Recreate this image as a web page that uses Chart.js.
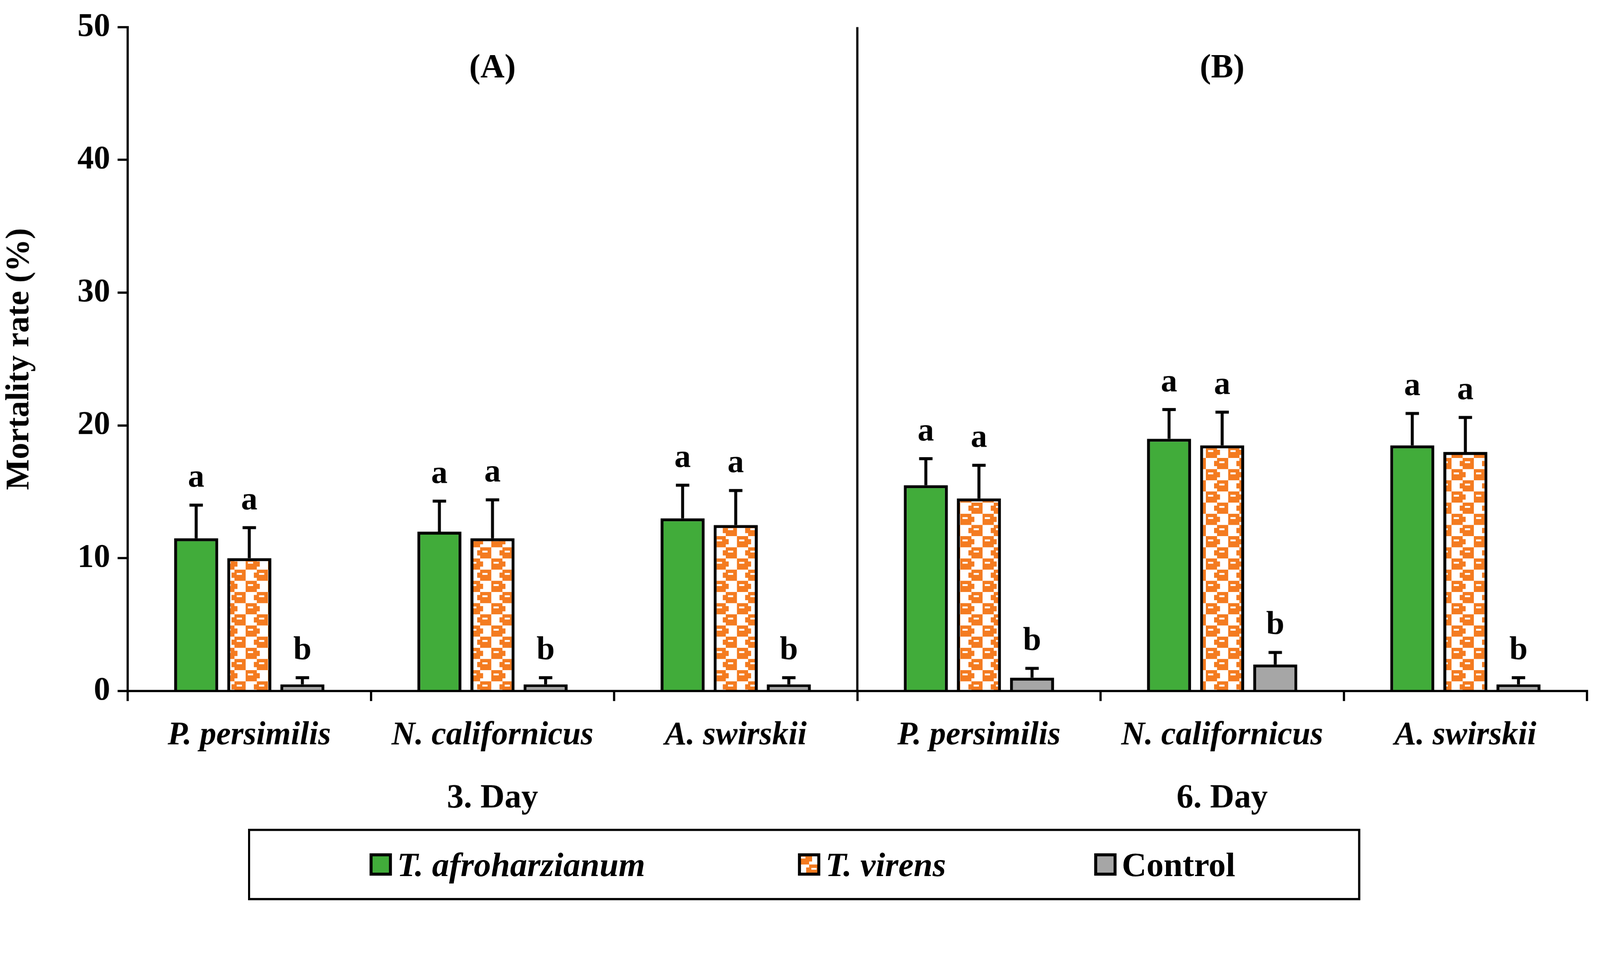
<!DOCTYPE html>
<html><head><meta charset="utf-8">
<script src="https://cdn.jsdelivr.net/npm/chart.js@4"></script>
<style>
html,body{margin:0;padding:0;background:#fff;overflow:hidden;}
#wrap{position:absolute;left:0;top:0;width:4299px;height:2444px;transform-origin:0 0;}
#legend{position:absolute;left:666px;top:2226px;width:2989px;height:192px;border:6px solid #000;box-sizing:border-box;font-family:"Liberation Serif",serif;font-size:92px;font-weight:bold;}
.li{display:flex;align-items:center;position:absolute;top:0;height:100%;}
.li canvas{width:60px;height:60px;margin-right:14px;}
</style></head><body>
<div id="wrap"><canvas id="c" width="4299" height="2444" style="width:4299px;height:2444px"></canvas>
<div id="legend"></div></div>
<script>
const categories = ["P. persimilis","N. californicus","A. swirskii","P. persimilis","N. californicus","A. swirskii"];
const groupLabels = ["3. Day","6. Day"];
const panelLabels = ["(A)","(B)"];
const seriesNames = ["T. afroharzianum","T. virens","Control"];
const afro = [11.5,12,13,15.5,19,18.5];
const afroErr = [2.5,2.3,2.5,2.0,2.2,2.4];
const virens = [10,11.5,12.5,14.5,18.5,18];
const virensErr = [2.3,2.9,2.6,2.5,2.5,2.6];
const control = [0.5,0.5,0.5,1.0,2.0,0.5];
const controlErr = [0.5,0.5,0.5,0.7,0.9,0.5];
const letters = [["a","a","a","a","a","a"],["a","a","a","a","a","a"],["b","b","b","b","b","b"]];
const yTicks = [0,10,20,30,40,50];

const k = Math.min(window.innerWidth/4299, window.innerHeight/2444);
document.getElementById('wrap').style.transform='scale('+k+')';

const FONT = '"Liberation Serif", serif';
function makePattern(){
  const t=document.createElement('canvas');t.width=60;t.height=60;
  const g=t.getContext('2d');
  g.fillStyle='#fff';g.fillRect(0,0,60,60);
  g.fillStyle='#f47b20';
  g.fillRect(0,0,30,30);g.fillRect(30,30,30,30);
  g.fillRect(22,8,16,14);g.fillRect(22,38,16,14);
  g.fillStyle='#fff';
  g.fillRect(6,9,14,5);g.fillRect(36,39,14,5);
  return document.getElementById('c').getContext('2d').createPattern(t,'repeat');
}
const pat = makePattern();
const fills = ['#41ac3a', pat, '#a6a6a6'];
const errs = [afroErr, virensErr, controlErr];

const overlay = {
  id:'overlay',
  afterDatasetsDraw(chart){
    const ctx=chart.ctx, y=chart.scales.y, x=chart.scales.x, ca=chart.chartArea;
    ctx.save();
    ctx.strokeStyle='#000';ctx.fillStyle='#000';ctx.lineWidth=8;
    chart.data.datasets.forEach((ds,di)=>{
      const meta=chart.getDatasetMeta(di);
      meta.data.forEach((bar,i)=>{
        const top=y.getPixelForValue(ds.data[i]);
        const et=y.getPixelForValue(ds.data[i]+errs[di][i]);
        ctx.beginPath();ctx.moveTo(bar.x,top);ctx.lineTo(bar.x,et);
        ctx.moveTo(bar.x-18,et);ctx.lineTo(bar.x+18,et);ctx.stroke();
        ctx.font='bold 88px '+FONT;ctx.textAlign='center';ctx.textBaseline='bottom';
        ctx.fillText(letters[di][i],bar.x,et-28);
      });
    });
    const xm=(x.getPixelForValue(2)+x.getPixelForValue(3))/2;
    ctx.lineWidth=6;ctx.beginPath();ctx.moveTo(xm,ca.top);ctx.lineTo(xm,ca.bottom);ctx.stroke();
    ctx.font='bold 90px '+FONT;ctx.textAlign='center';ctx.textBaseline='middle';
    const c1=(x.getPixelForValue(0)+x.getPixelForValue(2))/2, c2=(x.getPixelForValue(3)+x.getPixelForValue(5))/2;
    ctx.fillText(panelLabels[0],c1,ca.top+112);ctx.fillText(panelLabels[1],c2,ca.top+112);
    ctx.fillText(groupLabels[0],x.getPixelForValue(1),ca.bottom+290);
    ctx.fillText(groupLabels[1],x.getPixelForValue(4),ca.bottom+290);
    ctx.restore();
  }
};

Chart.defaults.font.family=FONT;
new Chart(document.getElementById('c'),{
  type:'bar',
  data:{labels:categories,datasets:[afro,virens,control].map((d,i)=>({label:seriesNames[i],data:d,backgroundColor:fills[i],borderColor:'#000',borderWidth:8,categoryPercentage:0.655,barPercentage:0.83}))},
  options:{responsive:false,animation:false,devicePixelRatio:1,
    layout:{padding:{left:0,right:35,top:66,bottom:0}},
    plugins:{legend:{display:false},tooltip:{enabled:false}},
    scales:{
      x:{grid:{drawOnChartArea:false,drawTicks:true,tickLength:27,color:'#000',lineWidth:6},border:{color:'#000',width:6},
        ticks:{font:{size:88,style:'italic',weight:'bold'},color:'#000',padding:40,maxRotation:0},
        afterFit(s){s.height=588;}},
      y:{min:0,max:50,afterBuildTicks(s){s.ticks=yTicks.map(v=>({value:v}));},
        grid:{drawOnChartArea:false,drawTicks:true,tickLength:27,color:'#000',lineWidth:6},border:{color:'#000',width:6},
        ticks:{font:{size:88,weight:'bold'},color:'#000',padding:20},
        title:{display:true,text:'Mortality rate (%)',font:{size:88,weight:'bold'},color:'#000',padding:0},
        afterFit(s){s.width=343;}}
    }},
  plugins:[overlay]
});
const lg=document.getElementById('legend');
const pos=[321,1472,2268];
seriesNames.forEach((n,i)=>{
  const d=document.createElement('div');d.className='li';d.style.left=pos[i]+'px';
  const cv=document.createElement('canvas');cv.width=60;cv.height=60;
  const g=cv.getContext('2d');g.fillStyle=fills[i];g.fillRect(0,0,60,60);g.lineWidth=8;g.strokeStyle='#000';g.strokeRect(4,4,52,52);
  const s=document.createElement('span');s.textContent=n;if(i<2)s.style.fontStyle='italic';
  d.appendChild(cv);d.appendChild(s);lg.appendChild(d);
});
</script></body></html>
